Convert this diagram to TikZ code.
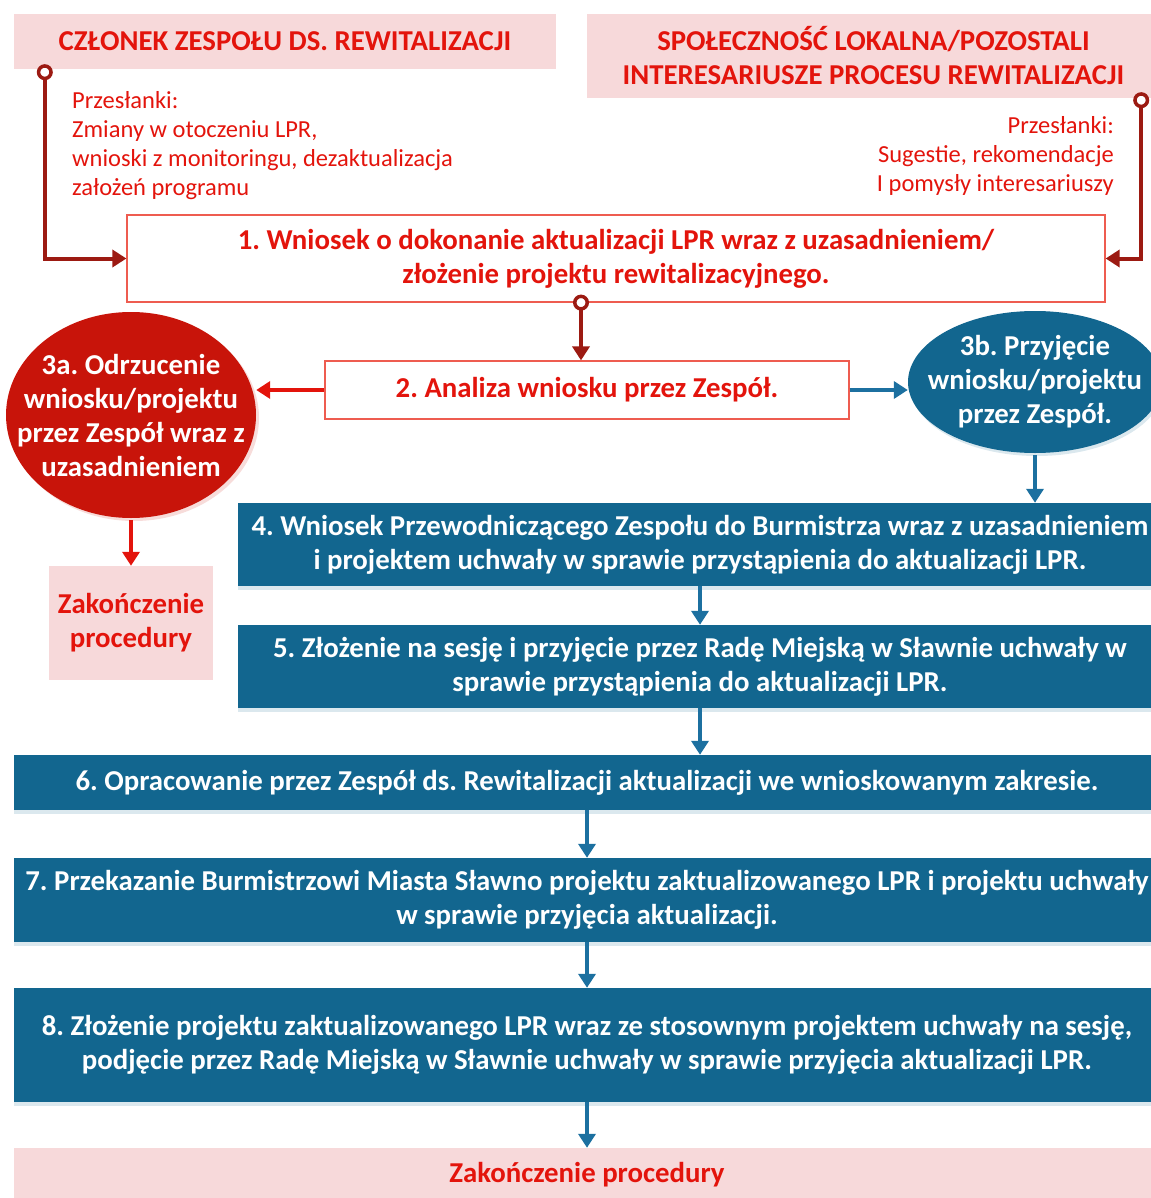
\documentclass[tikz,border=0pt]{standalone}
\usepackage{fontspec}
\setmainfont{Carlito}
\usetikzlibrary{arrows.meta,shapes.geometric,shadows}
\definecolor{rozowy}{HTML}{F7D9DA}
\definecolor{czerwony}{HTML}{E3140C}
\definecolor{bordo}{HTML}{9C1A12}
\definecolor{niebieski}{HTML}{12668F}
\definecolor{strzalka}{HTML}{1C70A0}
\definecolor{ramka}{HTML}{EE5C50}
\definecolor{krwisty}{HTML}{C8140A}
\frenchspacing

\begin{document}
\begin{tikzpicture}[x=1pt,y=-1pt,
    every node/.style={font=\bfseries\fontsize{28.8}{34}\selectfont, align=center, inner sep=0pt},
    naglowek/.style={fill=rozowy, text=czerwony},
    ramkaczerw/.style={draw=ramka, line width=1.2pt, fill=white, text=czerwony},
    blok/.style={fill=niebieski, text=white,
      drop shadow={fill=niebieski!15, shadow xshift=0pt, shadow yshift=-4pt, opacity=1}},
    uwagi/.style={font=\fontsize{24.5}{29}\selectfont, text=czerwony},
    ciemna/.style={draw=bordo, line width=4pt,
      {Circle[open,length=16pt,width=16pt,line width=3.5pt,fill=white]}-{Triangle[length=14pt,width=17pt]}},
    czerw/.style={draw=czerwony, line width=4pt, -{Triangle[length=14pt,width=17pt]}},
    nieb/.style={draw=strzalka, line width=4pt, -{Triangle[length=14pt,width=17pt]}}
  ]
  \useasboundingbox (0,0) rectangle (1150,1198);

  % naglowki
  \node [naglowek, minimum width=542pt, minimum height=55pt] (czlonek) at (285,41.5)
    {CZŁONEK ZESPOŁU DS. REWITALIZACJI};
  \node [naglowek, minimum width=573pt, minimum height=84pt] (spolecznosc) at (873.5,56)
    {SPOŁECZNOŚĆ LOKALNA/POZOSTALI\\INTERESARIUSZE PROCESU REWITALIZACJI};

  \node [uwagi, anchor=north west, align=left] (przeslankiL) at (72,91)
    {Przesłanki:\\Zmiany w otoczeniu LPR,\\wnioski z monitoringu, dezaktualizacja\\założeń programu};
  \node [uwagi, anchor=north east, align=right] (przeslankiP) at (1114,116)
    {Przesłanki:\\Sugestie, rekomendacje\\I pomysły interesariuszy};

  % krok 1 i 2
  \node [ramkaczerw, minimum width=978pt, minimum height=87pt] (w1) at (616,258.5)
    {1. Wniosek o dokonanie aktualizacji LPR wraz z uzasadnieniem/\\złożenie projektu rewitalizacyjnego.};
  \node [ramkaczerw, minimum width=524pt, minimum height=58pt] (w2) at (587,390)
    {2. Analiza wniosku przez Zespół.};

  % 3a / 3b
  \node [ellipse, fill=krwisty, minimum width=250pt, minimum height=206pt,
    drop shadow={fill=krwisty!15, shadow xshift=3pt, shadow yshift=-3pt, opacity=1}] (o3a) at (131,415) {};
  \node [text=white] at (o3a) {3a. Odrzucenie\\wniosku/projektu\\przez Zespół wraz z\\uzasadnieniem};
  \node [naglowek, minimum width=164pt, minimum height=114pt] (koniec1) at (131,623)
    {Zakończenie\\procedury};

  \node [ellipse, fill=niebieski, minimum width=254pt, minimum height=142pt,
    drop shadow={fill=niebieski!15, shadow xshift=2pt, shadow yshift=-3pt, opacity=1}] (o3b) at (1035,382) {};
  \node [text=white] at (o3b) {3b. Przyjęcie\\wniosku/projektu\\przez Zespół.};

  % kroki 4-8
  \node [blok, minimum width=924pt, minimum height=83pt] (b4) at (700,544.5)
    {4. Wniosek Przewodniczącego Zespołu do Burmistrza wraz z uzasadnieniem\\i projektem uchwały w sprawie przystąpienia do aktualizacji LPR.};
  \node [blok, minimum width=924pt, minimum height=83pt] (b5) at (700,666.5)
    {5. Złożenie na sesję i przyjęcie przez Radę Miejską w Sławnie uchwały w\\sprawie przystąpienia do aktualizacji LPR.};
  \node [blok, minimum width=1146pt, minimum height=55pt] (b6) at (587,782.5)
    {6. Opracowanie przez Zespół ds. Rewitalizacji aktualizacji we wnioskowanym zakresie.};
  \node [blok, minimum width=1146pt, minimum height=84pt] (b7) at (587,900)
    {7. Przekazanie Burmistrzowi Miasta Sławno projektu zaktualizowanego LPR i projektu uchwały\\w sprawie przyjęcia aktualizacji.};
  \node [blok, minimum width=1146pt, minimum height=114pt] (b8) at (587,1045)
    {8. Złożenie projektu zaktualizowanego LPR wraz ze stosownym projektem uchwały na sesję,\\podjęcie przez Radę Miejską w Sławnie uchwały w sprawie przyjęcia aktualizacji LPR.};
  \node [naglowek, minimum width=1146pt, minimum height=54pt] (koniec2) at (587,1175)
    {Zakończenie procedury};

  % polaczenia
  \draw [ciemna] ([xshift=31pt,yshift=5pt]czlonek.south west) |- (w1.west);
  \draw [ciemna] ([xshift=-19pt,yshift=6pt]spolecznosc.south east) |- (w1.east);
  \draw [ciemna] ([xshift=-6pt,yshift=8pt]w1.south -| w2.north) -- ([xshift=-6pt]w2.north);

  \draw [czerw] (w2.west) -- (w2.west -| o3a.east);
  \draw [czerw] ([yshift=-2pt]o3a.south) -- (koniec1.north);
  \draw [nieb] (w2.east) -- (w2.east -| o3b.west);
  \draw [nieb] ([yshift=-2pt]o3b.south) -- (b4.north -| o3b.south);

  \draw [nieb] (b4.south) -- (b5.north);
  \draw [nieb] (b5.south) -- (b5.south |- b6.north);
  \draw [nieb] (b6.south) -- (b7.north);
  \draw [nieb] (b7.south) -- (b8.north);
  \draw [nieb] (b8.south) -- (koniec2.north);
\end{tikzpicture}
\end{document}
